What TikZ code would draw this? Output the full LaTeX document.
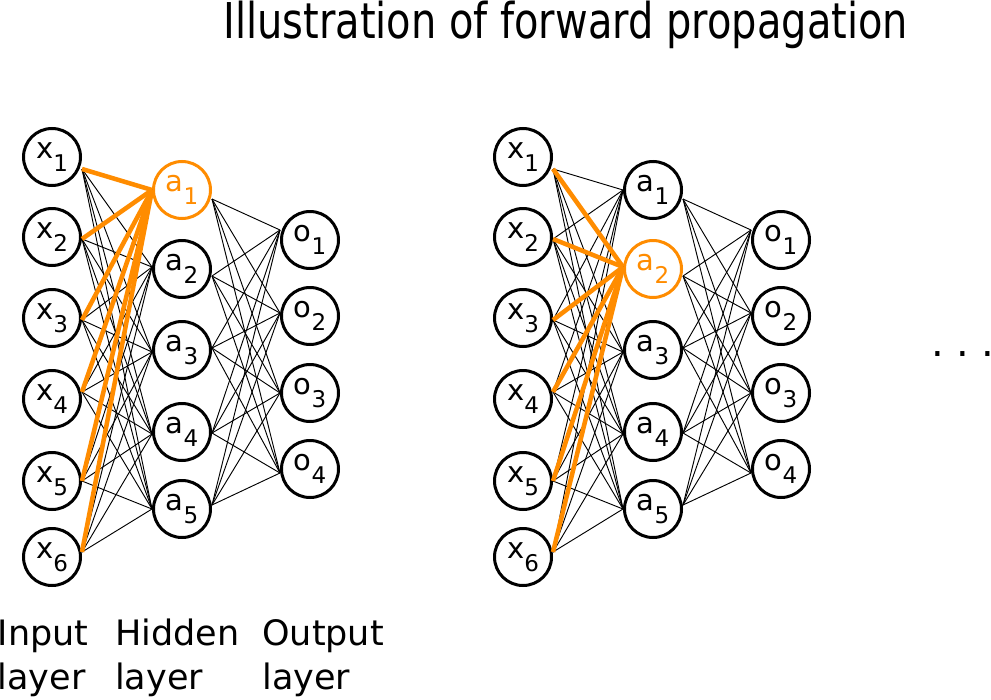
\documentclass[tikz,border=0pt]{standalone}
\usepackage{fontspec}
\setmainfont{DejaVu Sans}
\usetikzlibrary{calc}
\definecolor{hotorange}{RGB}{255,140,0}
\newcommand{\nlab}[2]{{\fontsize{21.75}{22}\selectfont #1}\raisebox{-9.75pt}{\fontsize{17.25}{18}\selectfont #2}}
\begin{document}
\begin{tikzpicture}[x=0.75pt,y=-0.75pt,
  neuron/.style={circle, draw, fill=white, line width=2.25pt, minimum size=42.75pt, inner sep=0pt},
  conn/.style={black, line width=0.7pt},
  hotconn/.style={hotorange, line width=3.4pt},
  lbl/.style={anchor=base west, inner sep=0pt, font=\fontsize{26.25}{30}\selectfont}]
\useasboundingbox (0,0) rectangle (991,699);
\node[anchor=base west, inner sep=0pt] (title) at (223,39) {\scalebox{0.81}[1]{\fontsize{37}{40}\selectfont Illustration of forward propagation}};

\foreach \p/\dx/\hi in {L/0/1, R/471/2} {
  \foreach \i/\yy/\d in {1/157/12, 2/237/2, 3/318/2, 4/399/-7, 5/481/0, 6/557/-5} {
    \node[neuron] (\p x\i) at (52+\dx,\yy) {\nlab{x}{\i}};
    \coordinate (\p x\i o) at ($(\p x\i.east)+(0,\d)$);
  }
  \foreach \j/\yy/\dl/\dr in {1/190/0/9, 2/269/-2/7, 3/350/2/-2, 4/432/2/1, 5/509/0/-4} {
    \ifnum\j=\hi \def\nc{hotorange}\else\def\nc{black}\fi
    \node[neuron, draw=\nc, text=\nc] (\p a\j) at (182+\dx,\yy) {\nlab{a}{\j}};
    \coordinate (\p a\j i) at ($(\p a\j.west)+(0,\dl)$);
    \coordinate (\p a\j o) at ($(\p a\j.east)+(0,\dr)$);
  }
  \foreach \k/\yy/\d in {1/240/-10, 2/316/-3, 3/393/0, 4/469/4} {
    \node[neuron] (\p o\k) at (310+\dx,\yy) {\nlab{o}{\k}};
    \coordinate (\p o\k i) at ($(\p o\k.west)+(0,\d)$);
  }
  \foreach \i in {1,...,6} {\foreach \j in {1,...,5} {\draw[conn] (\p x\i o) -- (\p a\j i);}}
  \foreach \j in {1,...,5} {\foreach \k in {1,...,4} {\draw[conn] (\p a\j o) -- (\p o\k i);}}
  \foreach \i in {1,...,6} {\draw[hotconn] (\p x\i o) -- (\p a\hi i);}
}

\node[lbl] (in1) at (-2.5,645) {Input};
\node[lbl] (in2) at (-2.5,689) {layer};
\node[lbl] (hd1) at (115,645) {Hidden};
\node[lbl] (hd2) at (115,689) {layer};
\node[lbl] (ou1) at (262,645) {Output};
\node[lbl] (ou2) at (262,689) {layer};
\node[anchor=base west, inner sep=0pt, font=\fontsize{30}{32}\selectfont] (dots) at (931,356) {.\hspace{9.4pt}.\hspace{9.4pt}.};
\end{tikzpicture}
\end{document}
